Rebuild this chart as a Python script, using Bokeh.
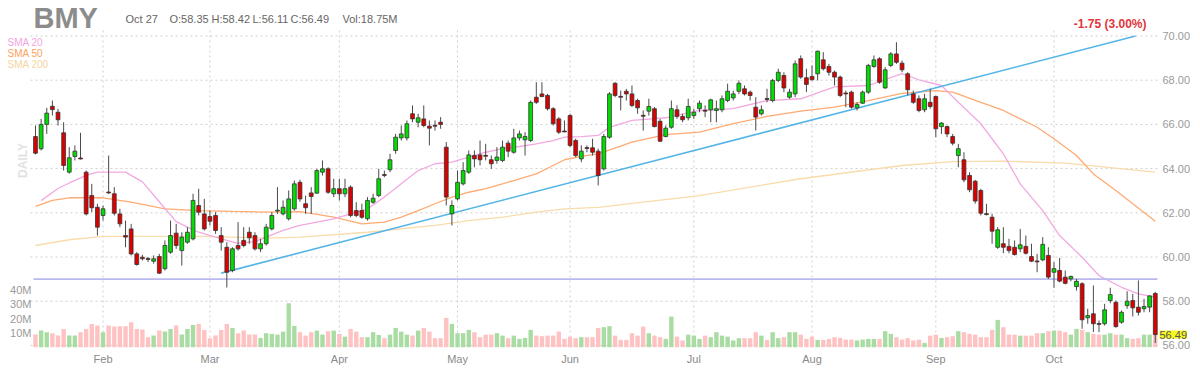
from bokeh.plotting import figure
from bokeh.models import Range1d, Label, ColumnDataSource
from bokeh.core.properties import value
from bokeh.embed import file_html
from bokeh.resources import INLINE
import math

# ---------------- data ----------------
ticker_symbol = "BMY"
last_date = "Oct 27"
change_text = "-1.75 (3.00%)"

opens = [65.45, 64.90, 66.00, 66.82, 66.55, 65.62, 63.84, 64.55, 64.48, 63.84,
         62.78, 62.25, 61.88, 62.94, 62.86, 61.95, 60.97, 61.27, 60.14, 59.99,
         59.93, 59.81, 60.02, 59.47, 60.22, 61.08, 60.29, 60.67, 60.82, 62.33,
         61.95, 61.83, 61.88, 60.97, 60.44, 59.39, 60.52, 60.75, 61.12, 60.97,
         60.37, 60.60, 61.27, 62.08, 61.95, 61.73, 62.18, 63.38, 62.41, 62.90,
         62.89, 63.84, 63.99, 62.86, 63.09, 62.86, 63.16, 62.10, 62.10, 61.73,
         62.48, 62.78, 63.73, 63.95, 64.82, 65.39, 65.39, 66.48, 66.10, 66.25,
         65.92, 65.96, 66.10, 64.97, 61.95, 62.63, 63.31, 63.84, 64.59, 64.62,
         64.60, 64.40, 64.37, 64.37, 65.15, 64.74, 65.39, 65.30, 65.27, 67.23,
         67.38, 67.31, 66.71, 66.25, 65.70, 66.40, 65.27, 64.44, 64.95, 64.94,
         64.79, 63.99, 65.42, 67.86, 67.27, 67.50, 67.38, 67.08, 66.41, 66.60,
         66.71, 66.14, 65.45, 65.87, 66.66, 66.36, 66.30, 66.40, 66.71, 66.64,
         66.66, 66.63, 66.66, 67.08, 67.20, 67.50, 67.61, 67.46, 66.78, 66.48,
         67.17, 67.08, 67.99, 68.21, 67.23, 67.38, 68.97, 68.11, 68.17, 68.29,
         68.92, 68.62, 68.36, 68.14, 67.42, 67.46, 66.75, 66.96, 67.46, 68.62,
         68.97, 67.65, 68.67, 69.19, 68.77, 68.29, 67.38, 67.16, 66.66, 67.00,
         67.26, 65.90, 65.90, 65.45, 64.59, 64.40, 63.69, 63.43, 63.01, 61.96,
         61.80, 60.44, 60.60, 60.48, 60.44, 60.37, 60.48, 60.02, 59.82, 59.87,
         60.07, 59.31, 59.39, 59.09, 59.01, 58.66, 58.79, 57.25, 57.43, 56.99,
         56.98, 58.03, 57.95, 57.05, 57.80, 58.03, 57.73, 57.66, 57.73, 58.35]
highs = [65.95, 66.25, 66.75, 67.08, 66.70, 66.10, 64.97, 65.05, 65.62, 63.91,
         63.31, 62.41, 62.33, 64.59, 63.16, 62.18, 61.65, 61.50, 60.22, 60.10,
         60.00, 60.07, 60.14, 60.75, 61.65, 61.50, 61.12, 61.35, 62.86, 63.09,
         62.63, 62.10, 62.03, 61.35, 60.67, 60.44, 61.58, 61.35, 61.35, 61.12,
         60.82, 61.50, 62.03, 63.16, 62.56, 63.01, 63.46, 63.50, 62.78, 63.16,
         63.99, 64.37, 64.06, 63.54, 63.54, 63.54, 63.24, 62.48, 62.41, 62.71,
         62.86, 63.99, 63.91, 64.67, 65.57, 65.95, 66.18, 66.86, 66.48, 66.86,
         66.18, 66.18, 66.33, 65.20, 62.56, 63.91, 64.29, 64.82, 64.82, 65.27,
         65.12, 64.59, 64.97, 65.27, 65.27, 65.80, 65.72, 65.65, 67.08, 67.91,
         67.91, 67.38, 66.78, 66.33, 66.18, 66.48, 65.35, 65.05, 65.05, 65.35,
         64.90, 65.57, 67.46, 67.91, 67.53, 67.61, 67.76, 67.16, 66.63, 67.16,
         66.78, 66.25, 65.95, 67.08, 66.86, 66.48, 67.16, 66.71, 67.08, 66.86,
         67.16, 67.08, 67.31, 67.84, 67.53, 67.99, 67.76, 67.53, 67.23, 66.86,
         67.61, 68.06, 68.52, 68.36, 67.61, 68.89, 69.12, 68.52, 68.67, 69.34,
         69.27, 68.74, 68.44, 68.21, 67.53, 67.53, 67.00, 67.53, 68.74, 69.12,
         69.04, 68.59, 69.27, 69.72, 68.89, 68.36, 67.53, 67.31, 67.38, 67.61,
         67.31, 66.10, 65.95, 65.57, 65.12, 64.74, 63.84, 63.49, 63.09, 62.41,
         61.95, 61.35, 61.35, 60.82, 60.75, 61.27, 60.97, 60.60, 60.14, 60.90,
         60.44, 59.77, 59.96, 59.39, 59.16, 59.01, 58.86, 57.66, 58.71, 57.13,
         57.88, 58.61, 58.03, 57.58, 58.45, 58.33, 58.94, 58.11, 58.26, 58.42]
lows = [64.64, 64.82, 65.57, 66.40, 65.95, 63.91, 63.77, 64.37, 64.41, 61.88,
        62.03, 60.97, 61.65, 62.86, 61.88, 61.35, 60.44, 60.07, 59.61, 59.84,
        59.77, 59.70, 59.24, 59.39, 60.14, 60.37, 59.61, 60.60, 60.75, 61.88,
        61.20, 61.43, 61.05, 60.29, 58.62, 59.31, 60.29, 60.44, 60.60, 60.29,
        60.22, 60.52, 61.20, 61.95, 61.88, 61.65, 62.10, 62.50, 61.95, 61.95,
        62.86, 63.69, 62.86, 62.71, 62.56, 62.71, 61.80, 61.80, 61.73, 61.65,
        62.41, 62.71, 63.61, 63.84, 64.67, 65.27, 65.27, 66.10, 65.87, 65.87,
        65.05, 65.72, 65.80, 62.33, 61.43, 62.56, 63.24, 63.76, 64.06, 64.14,
        64.37, 63.99, 64.22, 64.29, 64.52, 64.67, 65.27, 64.59, 65.20, 66.93,
        67.23, 66.63, 65.95, 65.57, 65.65, 64.97, 64.52, 64.29, 64.74, 64.59,
        63.24, 63.91, 65.35, 67.23, 66.63, 67.08, 66.78, 66.48, 65.72, 66.40,
        65.87, 65.20, 65.42, 65.80, 66.25, 66.10, 66.18, 66.25, 66.55, 66.33,
        66.10, 66.10, 66.55, 67.00, 67.08, 67.38, 67.31, 67.08, 65.72, 66.40,
        67.00, 67.00, 67.91, 67.46, 67.16, 67.23, 68.06, 67.46, 67.99, 67.99,
        68.44, 68.21, 67.76, 67.23, 66.78, 66.71, 66.63, 66.93, 67.38, 68.56,
        67.84, 67.61, 68.59, 68.74, 68.36, 67.31, 66.93, 66.55, 66.55, 66.71,
        65.42, 65.57, 65.42, 65.05, 64.06, 63.38, 62.93, 62.41, 61.88, 61.88,
        60.60, 60.37, 60.17, 60.17, 60.07, 60.22, 60.11, 59.77, 59.31, 59.81,
        59.01, 58.61, 58.86, 58.76, 58.90, 58.48, 56.75, 56.98, 56.60, 56.60,
        56.90, 57.91, 56.80, 56.98, 57.66, 57.31, 57.35, 57.50, 57.50, 56.11]
closes = [64.70, 66.00, 66.51, 66.67, 66.21, 64.14, 64.49, 64.79, 64.46, 61.95,
          62.23, 61.35, 62.18, 62.92, 61.98, 61.50, 60.90, 60.14, 59.66, 59.92,
          59.91, 59.92, 59.27, 60.52, 60.97, 60.52, 60.90, 61.12, 62.56, 62.03,
          61.27, 61.62, 61.20, 60.67, 59.31, 60.37, 60.37, 60.52, 60.87, 60.37,
          60.60, 61.35, 61.88, 62.12, 62.25, 62.63, 63.31, 62.63, 62.23, 62.74,
          63.91, 63.99, 62.93, 63.09, 62.86, 63.09, 61.88, 61.88, 61.80, 62.56,
          62.66, 63.54, 63.71, 64.40, 65.42, 65.57, 66.03, 66.25, 66.30, 65.95,
          65.83, 65.94, 66.00, 62.71, 62.33, 63.38, 63.91, 64.62, 64.44, 64.40,
          64.58, 64.22, 64.52, 64.97, 64.79, 65.39, 65.57, 65.45, 67.00, 67.00,
          67.26, 66.71, 66.03, 65.65, 65.68, 65.05, 64.59, 64.79, 64.93, 64.74,
          63.69, 65.45, 67.38, 67.31, 67.25, 67.38, 66.86, 66.75, 66.39, 66.81,
          65.90, 65.24, 65.83, 66.71, 66.36, 66.21, 66.81, 66.55, 66.96, 66.62,
          67.11, 66.71, 67.16, 67.50, 67.38, 67.86, 67.38, 67.31, 66.33, 66.66,
          67.15, 67.99, 68.36, 67.65, 67.46, 68.74, 68.14, 67.81, 68.02, 69.31,
          68.52, 68.36, 68.14, 67.31, 67.40, 66.78, 66.90, 67.46, 68.67, 68.92,
          67.91, 68.47, 69.19, 68.81, 68.47, 67.57, 67.00, 66.63, 67.16, 66.81,
          65.80, 66.06, 65.57, 65.15, 64.90, 63.49, 63.04, 62.53, 61.98, 61.94,
          61.17, 61.23, 60.44, 60.29, 60.11, 60.55, 60.17, 59.81, 59.80, 60.57,
          59.09, 59.47, 58.91, 58.81, 59.12, 58.90, 57.16, 57.35, 56.98, 56.97,
          57.61, 58.30, 56.85, 57.50, 58.00, 57.70, 57.50, 57.76, 58.24, 56.49]
volume_m = [8.8, 11.6, 10.5, 9.8, 8.1, 12.8, 8.1, 8.1, 10.5, 12.8,
            16.3, 15.1, 10.5, 15.1, 14.4, 14.7, 14.7, 17.4, 12.8, 12.3,
            7.0, 8.1, 11.6, 10.9, 12.8, 15.1, 8.8, 12.8, 15.6, 16.3,
            12.1, 6.3, 8.1, 12.1, 16.3, 13.5, 9.8, 11.6, 8.8, 8.8,
            6.5, 9.8, 9.3, 8.8, 10.9, 30.7, 14.9, 10.5, 8.1, 10.5,
            11.6, 8.8, 11.2, 11.6, 9.3, 7.4, 12.8, 10.9, 7.0, 7.0,
            10.5, 8.6, 6.3, 8.8, 13.5, 10.9, 8.8, 8.1, 11.6, 13.5,
            10.9, 6.3, 6.3, 20.5, 16.3, 9.8, 9.8, 12.1, 10.5, 7.0,
            8.8, 8.8, 9.8, 8.1, 6.3, 8.1, 5.8, 6.5, 12.1, 8.1,
            7.7, 8.1, 8.1, 10.9, 5.8, 7.4, 6.3, 7.0, 7.0, 7.0,
            13.5, 14.0, 14.7, 8.1, 5.1, 5.1, 9.8, 8.1, 14.4, 9.8,
            8.1, 7.0, 5.8, 21.4, 7.4, 4.7, 8.8, 8.1, 5.8, 8.1,
            7.0, 10.5, 8.1, 7.4, 4.7, 6.3, 6.3, 6.3, 10.5, 8.1,
            5.1, 10.5, 6.3, 7.0, 10.5, 10.5, 8.8, 5.8, 7.4, 5.1,
            5.1, 5.8, 7.0, 6.5, 5.3, 5.3, 4.7, 5.3, 5.8, 5.8,
            5.8, 11.2, 9.3, 7.0, 5.3, 6.3, 4.7, 5.3, 3.0, 8.1,
            8.8, 6.5, 7.0, 7.7, 11.2, 10.5, 9.3, 8.8, 7.0, 7.0,
            12.1, 19.1, 14.0, 8.8, 8.8, 8.1, 8.1, 8.1, 9.8, 9.8,
            11.2, 11.6, 11.6, 10.5, 8.8, 12.8, 12.1, 10.5, 9.3, 8.8,
            8.8, 9.8, 8.8, 8.8, 6.3, 5.8, 6.3, 8.8, 8.8, 18.75]

# moving averages read at sample bars
sma20_idx = [1, 4, 6, 9, 11, 16, 19, 22, 25, 27, 29, 32, 34, 36, 39, 41, 44, 47, 53, 59,
             62, 65, 68, 71, 74, 77, 80, 83, 86, 89, 92, 94, 97, 100, 102, 106, 112, 118,
             124, 130, 136, 142, 148, 154, 157, 161, 164, 168, 172, 175, 179, 182, 186,
             189, 193, 196, 199]
sma20_val = [62.55, 63.10, 63.35, 63.69, 63.84, 63.84, 63.40, 62.50, 61.60, 61.35, 61.12,
             60.90, 60.75, 60.62, 60.70, 60.90, 61.20, 61.43, 61.73, 62.18, 62.71, 63.31,
             63.91, 64.22, 64.29, 64.52, 64.74, 64.90, 65.00, 65.12, 65.27, 65.42, 65.45,
             65.50, 65.87, 66.18, 66.30, 66.63, 66.71, 67.08, 67.16, 67.70, 67.76, 68.30,
             68.02, 67.76, 67.00, 66.03, 64.67, 63.31, 62.10, 60.97, 59.99, 59.16, 58.63,
             58.33, 58.18]
sma50_idx = [0, 3, 6, 12, 17, 23, 29, 35, 41, 47, 53, 58, 62, 65, 68, 71, 74, 77, 80, 83,
             86, 89, 92, 94, 97, 100, 106, 112, 118, 124, 130, 136, 142, 148, 154, 160,
             163, 168, 172, 178, 181, 185, 188, 192, 195, 199]
sma50_val = [62.29, 62.56, 62.68, 62.68, 62.48, 62.18, 62.10, 62.06, 62.03, 62.05, 61.80,
             61.50, 61.58, 61.80, 62.10, 62.41, 62.71, 62.93, 63.09, 63.31, 63.54, 63.76,
             64.14, 64.40, 64.55, 64.67, 65.20, 65.54, 65.65, 66.03, 66.36, 66.60, 66.78,
             67.08, 67.40, 67.53, 67.46, 67.00, 66.63, 65.87, 65.35, 64.59, 63.76, 63.01,
             62.41, 61.62]
sma200_idx = [0, 6, 12, 30, 41, 47, 59, 71, 77, 83, 89, 94, 100, 118, 136, 154, 163, 172,
              183, 199]
sma200_val = [60.52, 60.78, 60.93, 60.93, 60.85, 60.90, 61.12, 61.43, 61.65, 61.80, 62.03,
              62.18, 62.25, 62.78, 63.54, 64.14, 64.32, 64.34, 64.25, 63.84]

trend_idx = [33, 195.5]
trend_val = [59.27, 70.00]
support_level = 59.00

price_ticks = [56, 58, 60, 62, 64, 66, 68, 70]
volume_ticks = [10, 20, 30, 40]
month_idx = [12, 31, 54, 75, 95, 117, 138, 160, 181]
month_names = ["Feb", "Mar", "Apr", "May", "Jun", "Jul", "Aug", "Sep", "Oct"]
sma_labels = ["SMA 20", "SMA 50", "SMA 200"]

# ---------------- layout (canvas pixels) ----------------
W, H = 1200, 375
X0, DX = 35.0, 5.627        # px of bar 0, px per bar
Y70, DY = 35.5, 22.1        # px of price 70, px per dollar
VOL0, DV = 346.7, 1.43      # px of zero volume, px per million
FRAME_L, FRAME_R, FRAME_T, FRAME_B = 30, 1158, 30, 348


def xi(X):
    return (X - X0) / DX


def py(Y):
    return 70 - (Y - Y70) / DY


UP, DOWN = "#00dd00", "#dd0000"
VOL_UP, VOL_DOWN = "#a9dca3", "#ffc2c2"
FONT = "Liberation Sans"
GRID = "#cfcfcf"

n = len(closes)
idx = list(range(n))
up = [c >= o for o, c in zip(opens, closes)]
body_top = [max(o, c) for o, c in zip(opens, closes)]
body_bot = [min(o, c) for o, c in zip(opens, closes)]
body_bot = [b if t - b >= 0.04 else t - 0.04 for t, b in zip(body_top, body_bot)]

src = ColumnDataSource(dict(
    x=idx, o=opens, h=highs, l=lows, c=closes, v=volume_m,
    top=body_top, bot=body_bot,
    fill=[UP if u else DOWN for u in up],
    vfill=[VOL_UP if u else VOL_DOWN for u in up],
))

p = figure(width=W, height=H, output_backend="svg", toolbar_location=None,
           x_range=Range1d(xi(0), xi(W)), y_range=Range1d(py(H), py(0)),
           x_axis_location=None, y_axis_location=None,
           min_border=0, min_border_left=0, min_border_right=0,
           min_border_top=0, min_border_bottom=0)
p.outline_line_color = None
p.background_fill_color = "white"
p.border_fill_color = "white"
p.grid.visible = False
p.extra_y_ranges = {"vol": Range1d((VOL0 - H) / DV, VOL0 / DV)}

# grid (dotted)
p.segment(x0=[xi(FRAME_L)] * len(price_ticks), x1=[xi(FRAME_R)] * len(price_ticks),
          y0=price_ticks, y1=price_ticks, line_color=GRID, line_dash="2 3", line_width=1)
p.segment(x0=month_idx, x1=month_idx, y0=[py(FRAME_T)] * len(month_idx),
          y1=[py(FRAME_B)] * len(month_idx), line_color=GRID, line_dash="2 3", line_width=1)

# volume
p.vbar(x="x", top="v", bottom=0, width=0.78, source=src, y_range_name="vol",
       fill_color="vfill", line_color=None)

# moving averages
p.line(sma200_idx, sma200_val, line_color="#f8dcab", line_width=1.3)
p.line(sma50_idx, sma50_val, line_color="#ffaa72", line_width=1.3)
p.line(sma20_idx, sma20_val, line_color="#f2a9e2", line_width=1.3)

# support + trend line
p.line([xi(FRAME_L + 3), xi(FRAME_R - 1)], [support_level, support_level],
       line_color="#b9b9ef", line_width=1.6)
p.line(trend_idx, trend_val, line_color="#55b5e6", line_width=1.6)

# candles
p.segment(x0="x", y0="l", x1="x", y1="h", source=src, line_color="#4a4a4a", line_width=1)
p.vbar(x="x", top="top", bottom="bot", width=0.68, source=src,
       fill_color="fill", line_color="#333333", line_width=0.8)

# axis texts
p.text(x=[xi(FRAME_R + 4)] * len(price_ticks), y=price_ticks,
       text=[f"{t:.2f}" for t in price_ticks], text_font=value(FONT),
       text_font_size="11px", text_color="#9a9a9a", text_align="left",
       text_baseline="middle")
p.text(x=[xi(FRAME_L + 1)] * len(volume_ticks), y=volume_ticks, y_range_name="vol",
       text=[f"{t}M" for t in volume_ticks], text_font=value(FONT),
       text_font_size="11px", text_color="#9a9a9a", text_align="right",
       text_baseline="middle")
p.text(x=month_idx, y=[py(358)] * len(month_idx), text=month_names,
       text_font=value(FONT), text_font_size="11px", text_color="#8a8a8a",
       text_align="center", text_baseline="middle")


def lab(text, X, Y, size, color, style="normal", align="left", angle=0.0, **kw):
    p.add_layout(Label(x=X, y=H - Y, x_units="screen", y_units="screen",
                       text=text, text_font=FONT, text_font_size=size,
                       text_color=color, text_font_style=style, text_align=align,
                       text_baseline="middle", angle=angle, **kw))


lab(ticker_symbol, 33, 17, "29px", "#8c8c8c", style="bold")
lab(last_date, 125, 18, "11px", "#666666")
lab(f"O:{opens[-1]:.2f}", 169, 18, "11px", "#666666")
lab(f"H:{highs[-1]:.2f}", 211, 18, "11px", "#666666")
lab(f"L:{lows[-1]:.2f}", 252, 18, "11px", "#666666")
lab(f"C:{closes[-1]:.2f}", 290, 18, "11px", "#666666")
lab(f"Vol:{volume_m[-1]:.2f}M", 342, 18, "11px", "#666666")
lab(change_text, 1146, 23, "12px", "#e2353b", style="bold", align="right")

for name, Y, col in zip(sma_labels, [42, 53, 64], ["#f5a3e0", "#ffa060", "#f6d59e"]):
    lab(name, 7, Y, "10px", col)
lab("DAILY", 22, 160, "12px", "#e2e2e2", style="bold", align="center", angle=math.pi / 2)

# last price tag
p.add_layout(Label(x=FRAME_R + 1, y=closes[-1], x_units="screen", y_units="data",
                   text=f"{closes[-1]:.2f}", text_font=FONT, text_font_size="11px",
                   text_color="#555555", text_baseline="middle", text_align="left",
                   background_fill_color="#f7f720"))

open("out.html", "w").write(file_html(p, INLINE))
